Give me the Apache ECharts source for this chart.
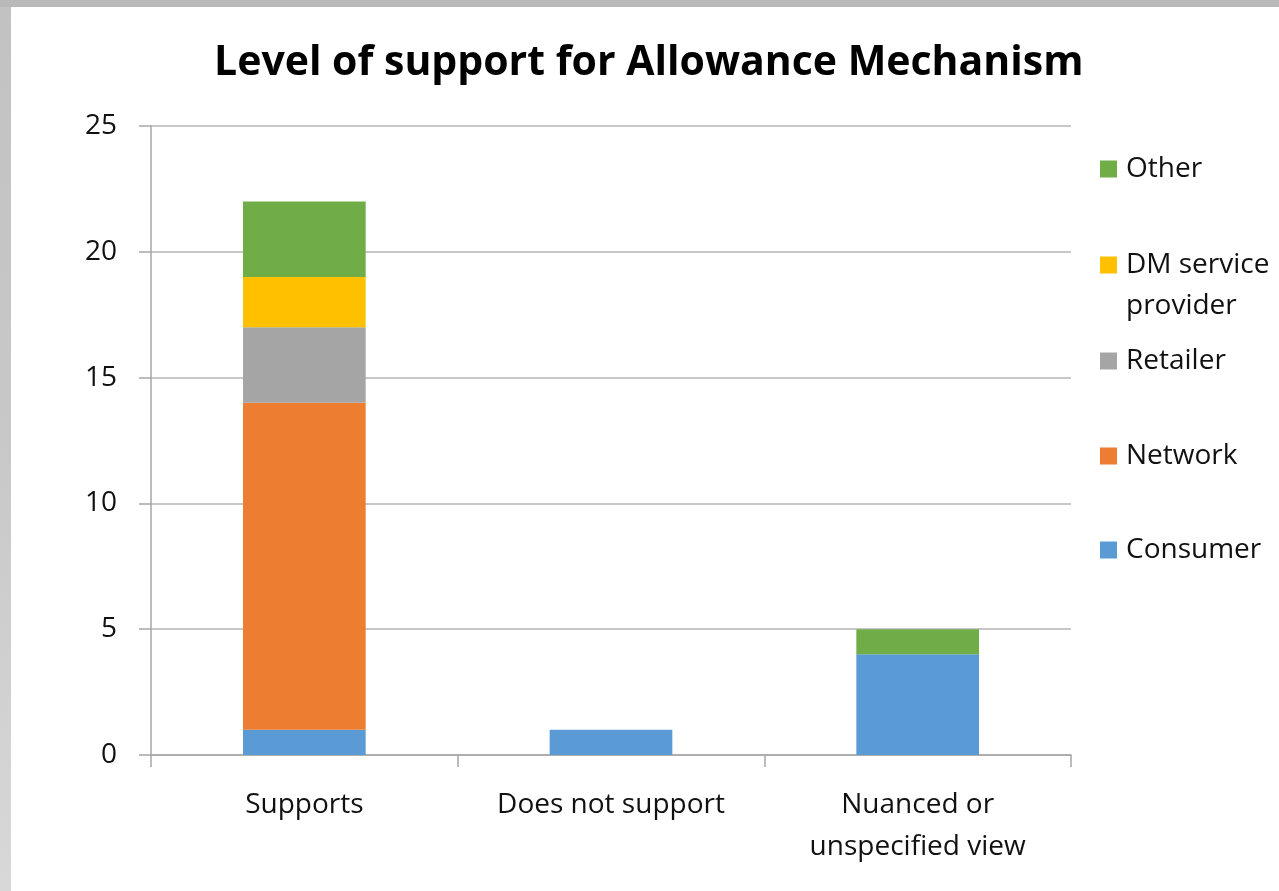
<!DOCTYPE html>
<html>
<head>
<meta charset="utf-8">
<script src="https://cdn.jsdelivr.net/npm/echarts@6/dist/echarts.min.js"></script>
<style>
  html, body { margin: 0; padding: 0; width: 1279px; height: 891px; overflow: hidden; background: #bdbdbd; }
  #frame { position: absolute; left: 0; top: 0; width: 1279px; height: 891px;
           background: linear-gradient(to bottom, #c2c2c2, #c8c8c8 50%, #d8d8d8); }
  #chart { position: absolute; left: 11px; top: 7px; width: 1268px; height: 884px; background: #ffffff; }
  #topband { position: absolute; left: 0; top: 0; width: 1279px; height: 7px; background: #b9b9b9; }
</style>
</head>
<body>
<div id="frame"></div>
<div id="topband"></div>
<div id="chart"></div>
<script>
// Categories and stacked counts per stakeholder group
const categories = ['Supports', 'Does not support', 'Nuanced or\nunspecified view'];
const consumer = [1, 1, 4];
const network  = [13, 0, 0];
const retailer = [3, 0, 0];
const dmProvider = [2, 0, 0];
const other    = [3, 0, 1];
const yTicks = [0, 5, 10, 15, 20, 25];

const FONT = '"Open Sans", "Noto Sans", sans-serif';
const TEXT = '#111111';
const colors = {
  Consumer: '#5B9BD5',
  Network: '#ED7D31',
  Retailer: '#A5A5A5',
  'DM service provider': '#FFC000',
  Other: '#70AD47'
};

const chart = echarts.init(document.getElementById('chart'), null, { renderer: 'canvas' });

function bar(name, data) {
  return {
    name: name,
    type: 'bar',
    stack: 'total',
    barWidth: '40%',
    data: data.map(v => (v === 0 ? null : v)),
    itemStyle: { color: colors[name] },
    emphasis: { disabled: true }
  };
}

// one legend block per entry, stacked down the right side
const legendRows = [
  { name: 'Other', top: 148 },
  { name: 'DM service provider', top: 244 },
  { name: 'Retailer', top: 340 },
  { name: 'Network', top: 435 },
  { name: 'Consumer', top: 529 }
];
const legends = legendRows.map(r => ({
  data: [r.name],
  left: 1089,
  top: r.top,
  padding: 0,
  orient: 'vertical',
  icon: 'rect',
  itemWidth: 17,
  itemHeight: 17,
  itemGap: 0,
  selectedMode: false,
  formatter: n => (n === 'DM service provider' ? 'DM service' : n),
  textStyle: { fontFamily: FONT, fontSize: 28, color: TEXT, padding: [0, 0, 0, 4] }
}));

chart.setOption({
  animation: false,
  title: {
    text: 'Level of support for Allowance Mechanism',
    left: 203,
    top: 36,
    padding: 0,
    textStyle: { fontFamily: FONT, fontSize: 41, fontWeight: 'bold', color: '#000' }
  },
  legend: legends,
  graphic: [{
    type: 'text',
    left: 1115,
    top: 285,
    style: { text: 'provider', font: '28px ' + FONT, fill: TEXT }
  }],
  grid: { left: 140, right: 208, top: 119, bottom: 136, containLabel: false },
  xAxis: {
    type: 'category',
    data: categories,
    boundaryGap: true,
    axisLine: { lineStyle: { color: '#a6a6a6', width: 1.5 } },
    axisTick: { show: true, length: 12, interval: 0, alignWithLabel: false, lineStyle: { color: '#a6a6a6', width: 1.5 } },
    axisLabel: { interval: 0, fontFamily: FONT, fontSize: 28, color: TEXT, margin: 29, lineHeight: 42 }
  },
  yAxis: {
    type: 'value',
    min: 0,
    max: 25,
    interval: 5,
    axisLine: { show: true, lineStyle: { color: '#a6a6a6', width: 1.5 } },
    axisTick: { show: true, length: 12, lineStyle: { color: '#a6a6a6', width: 1.5 } },
    splitLine: { lineStyle: { color: '#b5b5b5', width: 1.5 } },
    axisLabel: {
      fontFamily: FONT, fontSize: 28, color: TEXT, margin: 34,
      formatter: v => (yTicks.includes(v) ? String(v) : '')
    }
  },
  series: [
    bar('Consumer', consumer),
    bar('Network', network),
    bar('Retailer', retailer),
    bar('DM service provider', dmProvider),
    bar('Other', other)
  ]
});
</script>
</body>
</html>
